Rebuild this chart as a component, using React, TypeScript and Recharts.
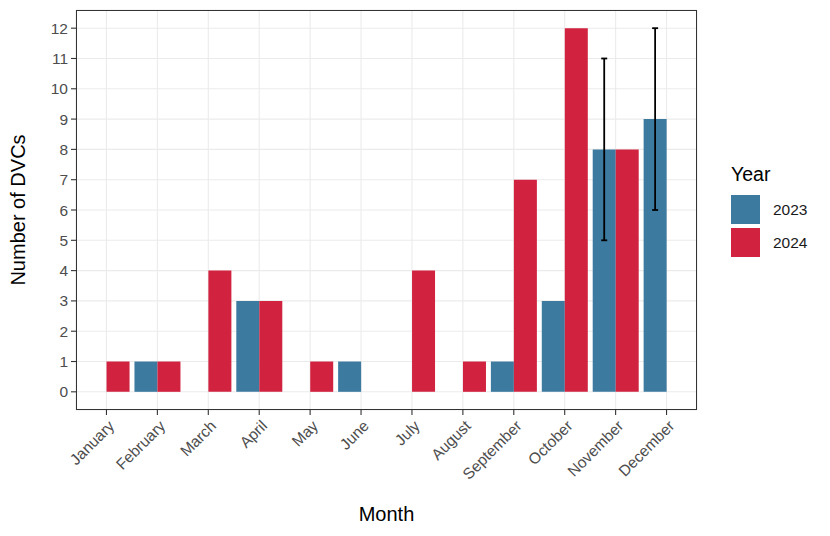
import { BarChart, Bar, XAxis, YAxis, CartesianGrid, ErrorBar, Label } from 'recharts'

const MONTHS = [
  'January', 'February', 'March', 'April', 'May', 'June',
  'July', 'August', 'September', 'October', 'November', 'December',
]
const COUNTS_2023 = [null, 1, null, 3, null, 1, null, null, 1, 3, 8, 9]
const COUNTS_2024 = [1, 1, 4, 3, 1, null, 4, 1, 7, 12, 8, null]
// +/- error around the 2023 count (Nov: 5-11, Dec: 6-12)
const ERR_2023 = [null, null, null, null, null, null, null, null, null, null, 3, 3]
const Y_TICKS = [0, 1, 2, 3, 4, 5, 6, 7, 8, 9, 10, 11, 12]

const SERIES = [
  { key: 'y2023', label: '2023', color: '#3C7A9F' },
  { key: 'y2024', label: '2024', color: '#D1223F' },
]

const data = MONTHS.map((m, i) => ({
  month: m,
  y2023: COUNTS_2023[i],
  y2024: COUNTS_2024[i],
  err2023: ERR_2023[i],
}))

const FONT = '"Liberation Sans", Arial, Helvetica, sans-serif'

const MonthTick = ({ x, y, payload }: any) => (
  <g transform={`translate(${x + 1},${y + 2})`}>
    <text
      x={0}
      y={0}
      dy="0.72em"
      textAnchor="end"
      transform="rotate(-45)"
      fill="#4D4D4D"
      fontSize={15.5}
      fontFamily={FONT}
    >
      {payload.value}
    </text>
  </g>
)

export default function App() {
  return (
    <div style={{ position: 'fixed', left: 0, top: 0, width: 830, height: 536, background: '#fff', fontFamily: FONT }}>
      <BarChart
        width={830}
        height={536}
        data={data}
        margin={{ top: 10, right: 133, bottom: 0, left: 0 }}
        barGap={0}
        barCategoryGap="5%"
      >
        <CartesianGrid stroke="#EBEBEB" strokeWidth={1.1} />
        <XAxis
          dataKey="month"
          height={126}
          padding={{ left: 5, right: 5 }}
          axisLine={false}
          tickLine={{ stroke: '#333333', strokeWidth: 1.1 }}
          tickSize={5}
          tick={<MonthTick />}
          interval={0}
        >
          <Label
            content={({ viewBox }: any) => (
              <text
                x={viewBox.x + viewBox.width / 2}
                y={viewBox.y + 111}
                textAnchor="middle"
                fontSize={20}
                fontFamily={FONT}
                fill="#000"
              >
                Month
              </text>
            )}
          />
        </XAxis>
        <YAxis
          type="number"
          width={76}
          domain={[-0.6, 12.6]}
          ticks={Y_TICKS}
          interval={0}
          allowDataOverflow
          axisLine={false}
          tickLine={{ stroke: '#333333', strokeWidth: 1.1 }}
          tickSize={5}
          tickMargin={3}
          tick={{ fill: '#4D4D4D', fontSize: 15.5, fontFamily: FONT }}
        >
          <Label
            content={({ viewBox }: any) => {
              const cx = viewBox.x + 18
              const cy = viewBox.y + viewBox.height / 2
              return (
                <text
                  x={cx}
                  y={cy}
                  transform={`rotate(-90 ${cx} ${cy})`}
                  textAnchor="middle"
                  dominantBaseline="central"
                  fontSize={20}
                  fontFamily={FONT}
                  fill="#000"
                >
                  Number of DVCs
                </text>
              )
            }}
          />
        </YAxis>
        <Bar dataKey="y2023" fill={SERIES[0].color} isAnimationActive={false}>
          <ErrorBar dataKey="err2023" width={3} stroke="#000" strokeWidth={1.8} isAnimationActive={false} />
        </Bar>
        <Bar dataKey="y2024" fill={SERIES[1].color} isAnimationActive={false} />
      </BarChart>

      {/* panel frame */}
      <div
        style={{
          position: 'absolute', left: 76, top: 10, width: 621, height: 400,
          border: '1.1px solid #333333', boxSizing: 'border-box', pointerEvents: 'none',
        }}
      />

      {/* legend */}
      <div style={{ position: 'absolute', left: 730, top: 163 }}>
        <div style={{ fontSize: 19.5, color: '#000', lineHeight: '22px', marginBottom: 8, marginLeft: 1 }}>Year</div>
        {SERIES.map(s => (
          <div key={s.key} style={{ display: 'flex', alignItems: 'center', height: 33 }}>
            <div style={{ width: 31, height: 31, background: s.color, border: '1px solid #fff', boxSizing: 'border-box' }} />
            <span style={{ marginLeft: 12, fontSize: 15.5, color: '#1A1A1A' }}>{s.label}</span>
          </div>
        ))}
      </div>
    </div>
  )
}
